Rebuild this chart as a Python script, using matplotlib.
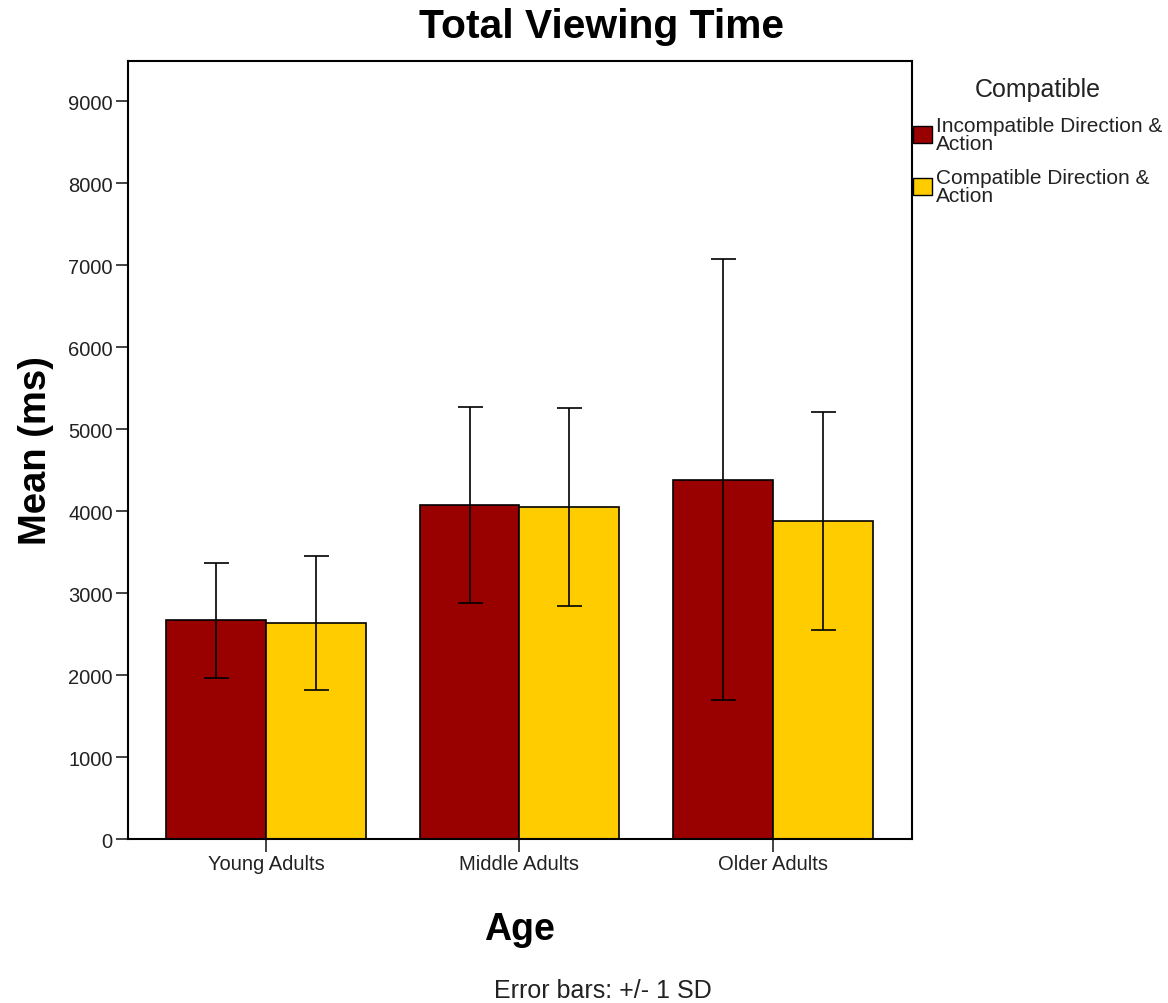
import numpy as np
import matplotlib
matplotlib.use('Agg')
import matplotlib.pyplot as plt
from matplotlib.patches import Patch

plt.rcParams['font.family'] = ['Liberation Sans', 'DejaVu Sans']

# Data
groups = ['Young Adults', 'Middle Adults', 'Older Adults']
series = ['Incompatible Direction &\nAction', 'Compatible Direction &\nAction']
incompatible_mean = [2670, 4075, 4380]
incompatible_sd = [700, 1190, 2690]
compatible_mean = [2635, 4050, 3880]
compatible_sd = [820, 1205, 1335]
colors = ['#990000', '#FFCC00']

fig = plt.figure(figsize=(11.68, 10.04), dpi=100)
ax = fig.add_axes([0.1096, 0.1633, 0.6712, 0.7749])

x = np.arange(len(groups))
w = 0.394
ax.bar(x - w / 2, incompatible_mean, w, color=colors[0], edgecolor='black', linewidth=1.2,
       yerr=incompatible_sd, capsize=9, error_kw=dict(elinewidth=1.2, capthick=1.2, ecolor='black'))
ax.bar(x + w / 2, compatible_mean, w, color=colors[1], edgecolor='black', linewidth=1.2,
       yerr=compatible_sd, capsize=9, error_kw=dict(elinewidth=1.2, capthick=1.2, ecolor='black'))

ax.set_xlim(-0.544, 2.548)
ax.set_ylim(0, 9490)
ax.set_yticks(range(0, 9001, 1000))
ax.set_xticks(x)
ax.set_xticklabels(groups)
ax.tick_params(axis='both', labelsize=14.5, length=9, width=1.2, colors='#222222', pad=2)
for s in ax.spines.values():
    s.set_linewidth(1.5)

ax.set_ylabel('Mean (ms)', fontsize=27.5, fontweight='bold', labelpad=10)
ax.set_xlabel('Age', fontsize=27, fontweight='bold', labelpad=27)
fig.text(0.5146, 0.973, 'Total Viewing Time', fontsize=29.3, fontweight='bold', ha='center', va='center')
fig.text(0.516, 0.013, 'Error bars: +/- 1 SD', fontsize=18, ha='center', va='center', color='#222222')

handles = [Patch(facecolor=c, edgecolor='black') for c in colors]
leg = fig.legend(handles, series, loc='upper left', bbox_to_anchor=(0.7817, 0.922), frameon=False,
                 title='Compatible', title_fontsize=18, fontsize=15, handlelength=0.9,
                 handleheight=0.9, handletextpad=0.2, labelspacing=0.7, borderaxespad=0,
                 borderpad=0)
for t in leg.get_texts():
    t.set_linespacing(0.95)
    t.set_color('#222222')
leg.get_title().set_color('#222222')

fig.savefig('out.png', dpi=100)
